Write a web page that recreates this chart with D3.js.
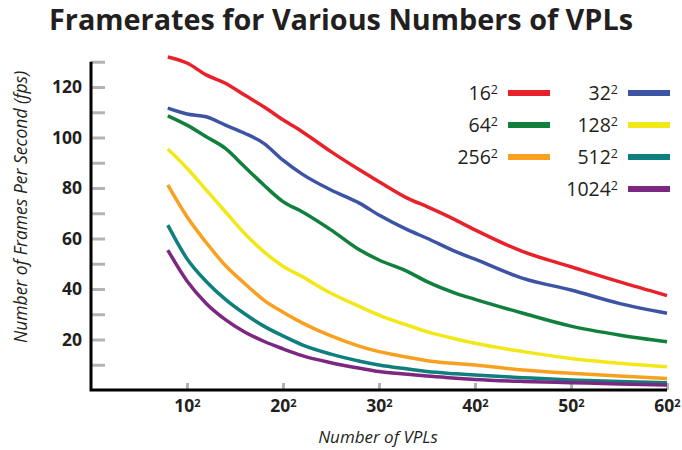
<!DOCTYPE html>
<html>
<head>
<meta charset="utf-8">
<script src="https://cdn.jsdelivr.net/npm/d3@7"></script>
<style>
  body { margin: 0; background: #fff; }
  svg { display: block; font-family: "Open Sans", sans-serif; }
</style>
</head>
<body>
<div id="chart"></div>
<script>

// n values along x axis (number of VPLs = n^2)
var nValues = [8, 10, 12, 14, 16, 18, 20, 22, 25, 28, 30, 33, 35, 38, 40, 45, 50, 55, 60];

// framerates, one array per series
var fps16   = [131.9, 129.5, 124.8, 121.5, 116.8, 112.2, 107.0, 102.3, 94.4, 87.1, 82.5, 75.9, 72.6, 67.3, 63.4, 54.8, 48.8, 42.9, 37.4];
var fps32   = [111.6, 109.3, 108.2, 104.9, 101.7, 97.7, 91.0, 85.5, 79.2, 73.9, 69.3, 63.4, 60.1, 54.8, 51.8, 44.2, 39.6, 34.3, 30.4];
var fps64   = [108.6, 104.9, 100.3, 95.7, 88.4, 81.2, 74.6, 70.6, 63.4, 55.4, 51.5, 46.9, 42.9, 38.3, 35.9, 30.4, 25.3, 21.8, 19.1];
var fps128  = [95.4, 87.8, 79.2, 70.6, 62.0, 54.8, 49.0, 44.9, 38.3, 33.0, 29.7, 25.6, 23.1, 20.2, 18.5, 15.2, 12.5, 10.6, 9.2];
var fps256  = [81.2, 68.6, 58.4, 49.3, 42.2, 35.6, 30.8, 26.6, 21.4, 17.3, 15.2, 13.0, 11.6, 10.5, 9.9, 7.9, 6.6, 5.5, 4.6];
var fps512  = [65.3, 52.0, 43.0, 35.9, 30.2, 25.3, 21.4, 17.9, 14.2, 11.4, 9.9, 8.3, 7.3, 6.4, 5.9, 4.9, 4.0, 3.4, 2.9];
var fps1024 = [55.4, 43.2, 34.3, 27.9, 23.0, 19.3, 16.3, 13.6, 10.8, 8.6, 7.3, 6.2, 5.5, 4.7, 4.2, 3.4, 2.9, 2.4, 2.0];

var seriesNames = ["16", "32", "64", "128", "256", "512", "1024"];
var seriesValues = [fps16, fps32, fps64, fps128, fps256, fps512, fps1024];
var seriesColors = ["#e8222b", "#3d54a4", "#11803d", "#f3e817", "#f9a01e", "#0e7f7d", "#7d2880"];

// axis ticks
var xTicks = [10, 20, 30, 40, 50, 60];
var yTicks = [10, 20, 30, 40, 50, 60, 70, 80, 90, 100, 110, 120, 130];

var W = 682, H = 450;

var svg = d3.select("#chart")
  .append("svg")
    .attr("width", W)
    .attr("height", H);

// scales
var x = d3.scaleLinear().domain([0, 60]).range([91, 667]);
var y = d3.scaleLinear().domain([0, 130]).range([390, 61.75]);

// title
svg.append("text")
  .attr("x", W / 2)
  .attr("y", 30)
  .attr("text-anchor", "middle")
  .attr("textLength", 584)
  .attr("lengthAdjust", "spacingAndGlyphs")
  .style("font-size", "28px")
  .style("font-weight", "bold")
  .style("fill", "#231f20")
  .text("Framerates for Various Numbers of VPLs");

// y axis
var yAxis = svg.append("g")
  .attr("transform", "translate(" + x(0) + ",0)")
  .call(d3.axisLeft(y)
    .tickValues(yTicks)
    .tickSize(-14)
    .tickSizeOuter(0)
    .tickPadding(9)
    .tickFormat(function(d) { return d % 20 === 0 ? d : ""; }));

yAxis.select(".domain").remove();
yAxis.selectAll(".tick line")
  .attr("stroke", "#b3b3b3")
  .attr("stroke-width", 3);
yAxis.selectAll(".tick text")
  .style("font-family", "Open Sans")
  .style("font-size", "17.5px")
  .style("font-weight", "bold")
  .style("fill", "#231f20");

// x axis
var xAxis = svg.append("g")
  .attr("transform", "translate(0," + y(0) + ")")
  .call(d3.axisBottom(x)
    .tickValues(xTicks)
    .tickSize(-7)
    .tickSizeOuter(0)
    .tickPadding(10));

xAxis.select(".domain").remove();
xAxis.selectAll(".tick line")
  .attr("stroke", "#b3b3b3")
  .attr("stroke-width", 3);
xAxis.selectAll(".tick text")
  .style("font-family", "Open Sans")
  .style("font-size", "17.5px")
  .style("font-weight", "bold")
  .style("fill", "#231f20")
  .text(null)
  .each(function(d) {
    var t = d3.select(this);
    t.append("tspan").text(d);
    t.append("tspan").attr("dy", "-0.45em").style("font-size", "11px").text("2");
  });

// black axis lines
svg.append("path")
  .attr("d", "M" + x(0) + "," + y(130) + "V" + y(0) + "H" + x(60))
  .attr("fill", "none")
  .attr("stroke", "#000")
  .attr("stroke-width", 3);

// lines
var line = d3.line()
  .x(function(d, i) { return x(nValues[i]); })
  .y(function(d) { return y(d); })
  .curve(d3.curveMonotoneX);

svg.selectAll(".series")
  .data(seriesValues)
  .enter()
  .append("path")
    .attr("class", "series")
    .attr("fill", "none")
    .attr("stroke", function(d, i) { return seriesColors[i]; })
    .attr("stroke-width", 3.5)
    .attr("d", line);

// legend
var legendX = [498, 618];   // right edge of text per column
var legendY = [93, 125, 157, 189];
var order = [0, 1, 2, 3, 4, 5, 6];

var leg = svg.selectAll(".legend")
  .data(order)
  .enter()
  .append("g")
    .attr("class", "legend")
    .attr("transform", function(d) {
      var col = d === 6 ? 1 : d % 2;
      var row = d === 6 ? 3 : Math.floor(d / 2);
      return "translate(" + legendX[col] + "," + legendY[row] + ")";
    });

leg.append("rect")
  .attr("x", 10)
  .attr("y", -3)
  .attr("width", 42)
  .attr("height", 6)
  .attr("fill", function(d) { return seriesColors[d]; });

var lt = leg.append("text")
  .attr("x", 0)
  .attr("y", 7)
  .attr("text-anchor", "end")
  .style("font-size", "19.5px")
  .style("fill", "#231f20");

lt.append("tspan").text(function(d) { return seriesNames[d]; });
lt.append("tspan")
  .attr("dy", "-0.5em")
  .style("font-size", "12.5px")
  .text("2");

// axis titles
svg.append("text")
  .attr("x", 378)
  .attr("y", 443)
  .attr("text-anchor", "middle")
  .style("font-size", "17px")
  .style("font-style", "italic")
  .style("fill", "#231f20")
  .text("Number of VPLs");

svg.append("text")
  .attr("transform", "translate(27,207) rotate(-90)")
  .attr("text-anchor", "middle")
  .style("font-size", "17.5px")
  .style("font-style", "italic")
  .style("fill", "#231f20")
  .text("Number of Frames Per Second (fps)");

</script>
</body>
</html>
